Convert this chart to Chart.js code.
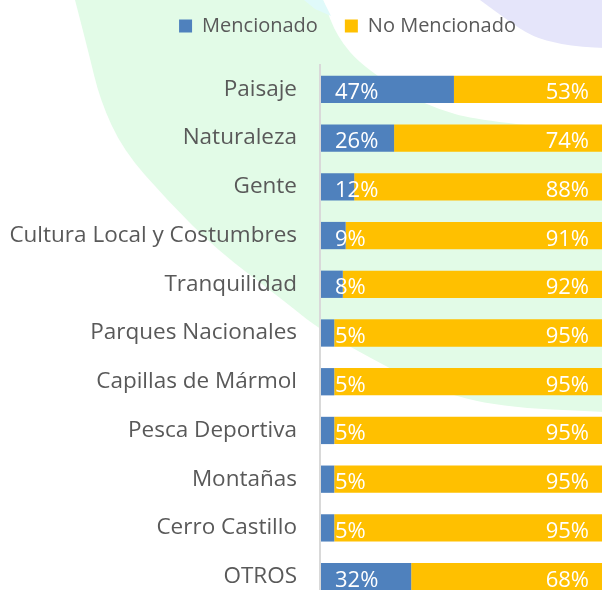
<!DOCTYPE html>
<html lang="es">
<head>
<meta charset="utf-8">
<title>Mencionado / No Mencionado</title>
<script src="https://cdn.jsdelivr.net/npm/chart.js@4"></script>
<style>
  html, body { margin: 0; padding: 0; background: #fff; overflow: hidden; }
  #wrap { width: 605px; height: 602px; }
</style>
</head>
<body>
<div id="wrap"><canvas id="chart" width="605" height="602"></canvas></div>
<script>
const categories = ['Paisaje', 'Naturaleza', 'Gente', 'Cultura Local y Costumbres', 'Tranquilidad',
  'Parques Nacionales', 'Capillas de Mármol', 'Pesca Deportiva', 'Montañas', 'Cerro Castillo', 'OTROS'];
const mencionado   = [47, 26, 12, 9, 8, 5, 5, 5, 5, 5, 32];
const noMencionado = [53, 74, 88, 91, 92, 95, 95, 95, 95, 95, 68];
const seriesNames  = ['Mencionado', 'No Mencionado'];
const colors       = ['#4F81BD', '#FFC000'];

Chart.defaults.font.family = '"Open Sans", sans-serif';
Chart.defaults.color = '#595959';

// faint decorative shapes behind the chart
const backdrop = {
  id: 'backdrop',
  beforeDraw(chart) {
    const ctx = chart.ctx, W = chart.width;
    ctx.save();
    ctx.fillStyle = '#fff';
    ctx.fillRect(0, 0, W, chart.height);

    const outer = [[75,0],[88,50],[100,100],[123,150],[167,200],[217,250],[283,300],[320,330],[387,367],[433,390],[500,407],[W,412]];
    const inner = [[W,132],[487,123],[423,105],[363,67],[337,37],[323,0]];
    ctx.fillStyle = '#E2FBE7';
    ctx.beginPath();
    smooth(ctx, outer, true);
    smooth(ctx, inner, false);
    ctx.closePath();
    ctx.fill();

    ctx.fillStyle = '#E0FAFA';
    ctx.beginPath();
    ctx.moveTo(304, 0); ctx.lineTo(323, 0); ctx.lineTo(331, 16); ctx.lineTo(315, 9);
    ctx.closePath();
    ctx.fill();

    ctx.fillStyle = '#E5E5FA';
    ctx.beginPath();
    smooth(ctx, [[480,0],[507,20],[533,37],[560,44],[583,47],[W,48]], true);
    ctx.lineTo(W, 0);
    ctx.closePath();
    ctx.fill();
    ctx.restore();
  }
};

function smooth(ctx, pts, start) {
  if (start) ctx.moveTo(pts[0][0], pts[0][1]); else ctx.lineTo(pts[0][0], pts[0][1]);
  for (let i = 1; i < pts.length - 1; i++) {
    const mx = (pts[i][0] + pts[i+1][0]) / 2, my = (pts[i][1] + pts[i+1][1]) / 2;
    ctx.quadraticCurveTo(pts[i][0], pts[i][1], mx, my);
  }
  const last = pts[pts.length - 1];
  ctx.lineTo(last[0], last[1]);
}

// legend is centred over the original (wider) chart, not this crop
const legendShift = {
  id: 'legendShift',
  afterLayout(chart) {
    const lg = chart.legend;
    lg.left += 45; lg.right += 45;
  }
};

// white percentage labels: blue at the base, orange at the end
const barLabels = {
  id: 'barLabels',
  afterDatasetsDraw(chart) {
    const ctx = chart.ctx;
    ctx.save();
    ctx.font = '22px "Open Sans", sans-serif';
    ctx.fillStyle = '#fff';
    ctx.textBaseline = 'alphabetic';
    chart.data.datasets.forEach((ds, di) => {
      chart.getDatasetMeta(di).data.forEach((bar, i) => {
        const txt = ds.data[i] + '%';
        const y = bar.y + 10;
        if (di === 0) { ctx.textAlign = 'left'; ctx.fillText(txt, bar.base + 15, y); }
        else { ctx.textAlign = 'right'; ctx.fillText(txt, bar.x - 16, y); }
      });
    });
    ctx.restore();
  }
};

new Chart(document.getElementById('chart'), {
  type: 'bar',
  data: {
    labels: categories,
    datasets: [
      { label: seriesNames[0], data: mencionado, backgroundColor: colors[0], borderWidth: 0 },
      { label: seriesNames[1], data: noMencionado, backgroundColor: colors[1], borderWidth: 0 }
    ]
  },
  options: {
    indexAxis: 'y',
    responsive: false,
    animation: false,
    devicePixelRatio: 1,
    categoryPercentage: 1,
    barPercentage: 0.56,
    layout: { padding: { top: -11, bottom: 1, left: 0, right: 0 } },
    plugins: {
      legend: {
        position: 'top',
        labels: { boxWidth: 13, boxHeight: 13, padding: 27, color: '#595959', font: { size: 20 } }
      },
      tooltip: { enabled: false }
    },
    scales: {
      x: {
        position: 'top',
        stacked: true,
        min: 0,
        max: 100,
        ticks: { display: false },
        grid: { display: false, drawTicks: true, tickLength: 19 },
        border: { display: false }
      },
      y: {
        stacked: true,
        grid: { display: false, drawTicks: false },
        border: { display: true, color: '#D9D9D9', width: 2, z: 1 },
        ticks: { padding: 23, autoSkip: false, color: '#595959', font: { size: 22.5 } },
        afterFit(s) { s.width = 320; s.paddingTop = 0; s.paddingBottom = 0; }
      }
    }
  },
  plugins: [backdrop, legendShift, barLabels]
});
</script>
</body>
</html>
